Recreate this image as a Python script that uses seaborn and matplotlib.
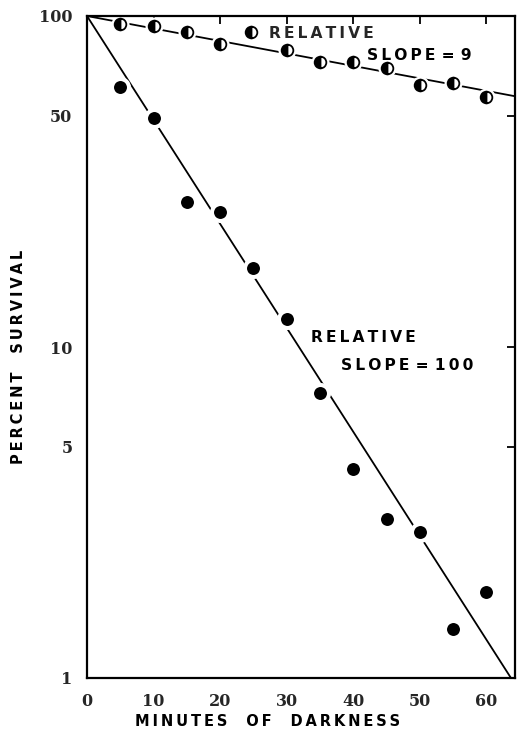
import numpy as np
import pandas as pd
import matplotlib
matplotlib.use("Agg")
import matplotlib.pyplot as plt
import seaborn as sns

# ---------------- data ----------------
minutes = [5, 10, 15, 20, 25, 30, 35, 40, 45, 50, 55, 60]
survival_steep = [60.9, 49.1, 27.5, 25.5, 17.3, 12.15, 7.25, 4.27, 3.03, 2.76, 1.41, 1.82]

minutes_shallow = [5, 10, 15, 20, 30, 35, 40, 45, 50, 55, 60]
survival_shallow = [94.4, 93.3, 89.5, 82.3, 79.0, 72.6, 72.6, 69.7, 61.9, 62.7, 56.9]

# fitted exponential lines (decades of survival lost per minute), both from 100 %
fit_start = 100.0
fit_rate_steep = 0.0314
fit_rate_shallow = 0.00377
fit_minutes = [0, 65]

x_ticks = [0, 10, 20, 30, 40, 50, 60]
y_ticks = [1, 5, 10, 50, 100]
y_ticklabels = ["1", "5", "10", "50", "100"]

x_label = "MINUTES OF DARKNESS"
y_label = "PERCENT SURVIVAL"
label_shallow = ("RELATIVE", "SLOPE = 9")
label_steep = ("RELATIVE", "SLOPE = 100")

# ---------------- helpers ----------------
THIN = "\u2009"


def spaced(text, word_gap=THIN + " " + THIN + " " + THIN):
    words = text.split(" ")
    return word_gap.join(THIN.join(list(w)) for w in words)


fit_x = np.linspace(fit_minutes[0], fit_minutes[1], 200)
fit_df = pd.DataFrame({
    "minutes": np.concatenate([fit_x, fit_x]),
    "survival": np.concatenate([fit_start * 10 ** (-fit_rate_steep * fit_x),
                                fit_start * 10 ** (-fit_rate_shallow * fit_x)]),
    "series": ["steep"] * len(fit_x) + ["shallow"] * len(fit_x),
})
steep_df = pd.DataFrame({"minutes": minutes, "survival": survival_steep})
shallow_df = pd.DataFrame({"minutes": minutes_shallow, "survival": survival_shallow})

# ---------------- figure ----------------
sns.set_theme(style="white")
plt.rcParams["font.family"] = ["DejaVu Sans"]

W, H = 517, 731
fig = plt.figure(figsize=(W / 100, H / 100), dpi=100)
ax = fig.add_axes([87 / W, 1 - 678 / H, (515 - 87) / W, (678 - 16) / H])

sns.lineplot(data=fit_df[fit_df.series == "steep"], x="minutes", y="survival",
             color="black", lw=1.3, ax=ax, zorder=1, legend=False)
sns.lineplot(data=fit_df[fit_df.series == "shallow"], x="minutes", y="survival",
             color="black", lw=1.3, ax=ax, zorder=1, legend=False)

# filled circles with white halo
sns.scatterplot(data=steep_df, x="minutes", y="survival", ax=ax, s=150,
                color="black", edgecolor="white", linewidth=2.9, zorder=3,
                legend=False)

# half-filled circles with white halo (halo drawn underneath)
ax.plot(shallow_df["minutes"], shallow_df["survival"], linestyle="none",
        marker="o", markersize=13, markerfacecolor="white",
        markeredgecolor="white", markeredgewidth=0, zorder=2.5)
half = ax.plot(shallow_df["minutes"], shallow_df["survival"], linestyle="none",
               marker="o", markersize=8.4, fillstyle="left",
               markerfacecolor="black", markerfacecoloralt="white",
               markeredgecolor="black", markeredgewidth=1.3, zorder=3)[0]

ax.set_yscale("log")
ax.set_xlim(0, 64.3)
ax.set_ylim(1, 100)
ax.set_xticks(x_ticks)
ax.set_xticklabels([str(v) for v in x_ticks])
ax.set_yticks(y_ticks)
ax.set_yticklabels(y_ticklabels)
ax.yaxis.set_minor_locator(matplotlib.ticker.NullLocator())
ax.xaxis.set_minor_locator(matplotlib.ticker.NullLocator())

for sp in ax.spines.values():
    sp.set_visible(True)
    sp.set_linewidth(1.6)
    sp.set_color("black")

ax.tick_params(axis="both", which="major", direction="out", length=5.5,
               width=1.3, color="black", pad=5)
ax.tick_params(axis="x", top=True)
ax.tick_params(axis="y", right=True)
for lab in ax.get_xticklabels() + ax.get_yticklabels():
    lab.set_fontfamily("DejaVu Serif")
    lab.set_fontweight("heavy")
    lab.set_fontsize(11.5)
# inward ticks on top and right
for t in ax.xaxis.get_major_ticks():
    t.tick2line.set_marker(matplotlib.lines.TICKDOWN)
    t.tick2line.set_markersize(6)
for t in ax.yaxis.get_major_ticks():
    t.tick2line.set_marker(matplotlib.lines.TICKLEFT)
    t.tick2line.set_markersize(6)

ax.set_xlabel("")
ax.set_ylabel("")

lab_font = dict(family="DejaVu Sans", weight="bold", size=10.5, color="black")
ann_font = dict(family="DejaVu Sans", weight="bold", size=11.2, color="black")
fig.text(268 / W, 1 - 721 / H, spaced(x_label), ha="center", va="center", **lab_font)
fig.text(19 / W, 1 - 357 / H, spaced(y_label), ha="center", va="center",
         rotation=90, **lab_font)

# legend-style key for the half-filled series
leg = ax.legend(handles=[half], labels=[spaced(label_shallow[0])],
                loc="center left",
                bbox_to_anchor=((244 - 87) / (515 - 87), (678 - 33) / (678 - 16)),
                frameon=False, handlelength=0.85, handletextpad=0.75,
                borderpad=0, borderaxespad=0,
                prop=dict(family="DejaVu Sans", weight="bold", size=11.2))

small_gap = THIN + THIN
ax.text((367 - 87) / 6.658, 10 ** ((678 - 55) / 331),
        spaced(label_shallow[1], small_gap), ha="left", va="center", **ann_font)
ax.text((311 - 87) / 6.658, 10 ** ((678 - 337) / 331), spaced(label_steep[0]),
        ha="left", va="center", **ann_font)
ax.text((341 - 87) / 6.658, 10 ** ((678 - 366) / 331),
        spaced(label_steep[1], small_gap), ha="left", va="center", **ann_font)

fig.savefig("out.png", dpi=100, facecolor="white")
